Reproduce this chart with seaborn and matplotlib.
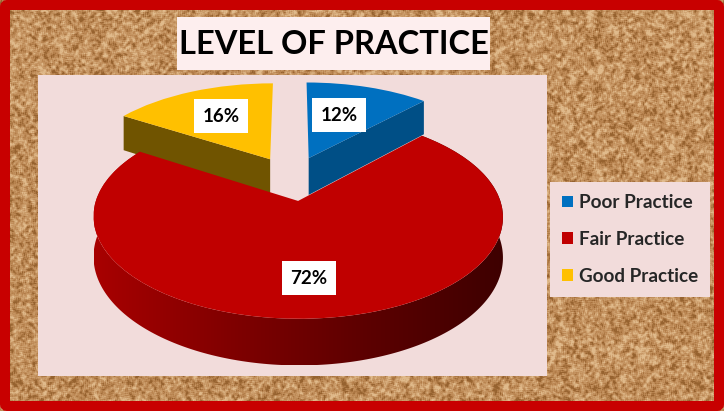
import numpy as np
import matplotlib
matplotlib.use("Agg")
import matplotlib.pyplot as plt
import matplotlib.transforms as mtransforms
from matplotlib.colors import LinearSegmentedColormap
from matplotlib.patches import FancyBboxPatch, Polygon, Rectangle
import seaborn as sns

# Chart data
categories = ["Poor Practice", "Fair Practice", "Good Practice"]
shares = [12, 72, 16]
pct_labels = ["12%", "72%", "16%"]
title_text = "LEVEL OF PRACTICE"

# Look of the pie
top_colors = sns.color_palette(["#0070C0", "#C00000", "#FFC000"])
wall_colors = {"Poor Practice": "#004F86", "Good Practice": "#705400"}
pull_out = 0.24

sns.set_theme(style="white")
plt.rcParams["font.family"] = ["Lato", "DejaVu Sans"]

W, H = 724, 411
fig = plt.figure(figsize=(W / 100, H / 100), dpi=100, facecolor="white")
ax = fig.add_axes([0, 0, 1, 1])


# pie plane -> screen pixels, back of the pie is smaller than the front
def to_screen(u, v, depth=0.0):
    w = 1 + 0.15 * v
    return 292 + 195 * u / w, 178.1 - 92.5 * v / w + 38 * depth / w


class Tilt(mtransforms.Transform):
    input_dims = 2
    output_dims = 2

    def transform_non_affine(self, values):
        x, y = to_screen(values[:, 0], values[:, 1])
        return np.column_stack([x, y])


wedges, _ = ax.pie(shares, colors=top_colors, startangle=90, counterclock=False,
                   explode=[pull_out] * 3, radius=1)
ax.set_aspect("auto")
ax.axis("off")
for w, name in zip(wedges, categories):
    w.set_transform(Tilt() + ax.transData)
    w.set_linewidth(0)
    w.set_zorder(5 if name == "Fair Practice" else 3)

# cork board texture, no random generator needed
yy, xx = np.mgrid[0:H, 0:W]
grain = np.sin(xx * 12.9898 + yy * 78.233) * 43758.5453
grain = grain - np.floor(grain)
soft = sum(np.roll(np.roll(grain, i, 0), j, 1) for i in (-1, 0, 1) for j in (-1, 0, 1)) / 9
coarse = sum(np.roll(np.roll(grain, i, 0), j, 1) for i in range(-3, 4) for j in range(-3, 4)) / 49
tex = 0.5 + (soft - 0.5) * 2.4 + (coarse - 0.5) * 1.2
cork = LinearSegmentedColormap.from_list("cork", ["#96622F", "#B98450", "#CB9C6A", "#E0BA8B"])
ax.imshow(tex, cmap=cork, vmin=0, vmax=1, extent=(0, W, H, 0), aspect="auto", zorder=0,
          interpolation="nearest")

# frame and panels
ax.add_patch(FancyBboxPatch((5, 5), W - 10, H - 10, boxstyle="round,pad=0,rounding_size=2",
                            fc="none", ec="#C80000", lw=7.2, zorder=1))
ax.add_patch(Rectangle((38, 75), 509, 301, fc="#F2DCDB", lw=0, zorder=1))
ax.add_patch(Rectangle((177, 17), 313, 53, fc="#FDEEEE", lw=0, zorder=1))
ax.text(333.5, 45, title_text, ha="center", va="center", fontsize=23.5, fontweight="bold",
        color="black", zorder=6)

# start/end angles of the slices, clockwise from 12 o'clock
edges = np.radians(np.cumsum([0] + shares) / sum(shares) * 360)
mids = (edges[:-1] + edges[1:]) / 2
centers = pull_out * np.column_stack([np.sin(mids), np.cos(mids)])

# cut walls of the two back slices
wall_angle = {"Poor Practice": edges[1], "Good Practice": edges[2]}
for i, name in enumerate(categories):
    if name not in wall_colors:
        continue
    cu, cv = centers[i]
    tu, tv = cu + np.sin(wall_angle[name]), cv + np.cos(wall_angle[name])
    a = to_screen(cu, cv)
    b = to_screen(tu, tv)
    c = to_screen(tu, tv, 1)
    d = to_screen(cu, cv, 1)
    ax.fill([a[0], b[0], c[0], d[0]], [a[1], b[1], c[1], d[1]], color=wall_colors[name], lw=0, zorder=2)

# outer wall of the big slice, shaded left to right
wall_cmap = LinearSegmentedColormap.from_list("wall", ["#A80000", "#800000", "#5C0000", "#3E0000"])
t = np.linspace(edges[1], edges[2], 240)
cu, cv = centers[1]
x0, y0 = to_screen(cu + np.sin(t), cv + np.cos(t))
x1, y1 = to_screen(cu + np.sin(t), cv + np.cos(t), 1)
outline = np.column_stack([np.r_[x0, x1[::-1]], np.r_[y0, y1[::-1]]])
wall_shape = Polygon(outline, closed=True, transform=ax.transData, fc="none", lw=0)
ax.add_patch(wall_shape)
ramp = ax.imshow(np.linspace(0, 1, 256)[None, :], cmap=wall_cmap, aspect="auto", zorder=4,
                 extent=(outline[:, 0].min(), outline[:, 0].max(), outline[:, 1].max(), outline[:, 1].min()))
ramp.set_clip_path(wall_shape)

ax.set_xlim(0, W)
ax.set_ylim(H, 0)

# percentage labels in white boxes
label_pos = [(339, 115), (309, 278), (221, 116)]
for (lx, ly), txt in zip(label_pos, pct_labels):
    ax.text(lx, ly, txt, ha="center", va="center", fontsize=13.5, fontweight="bold", color="black",
            zorder=7, bbox=dict(fc="white", ec="none", pad=6))

leg = ax.legend(wedges, categories, loc="upper left", bbox_to_anchor=(550 / W, 1 - 182 / H),
                bbox_transform=fig.transFigure, borderaxespad=0, frameon=True,
                facecolor="#F2DCDB", edgecolor="none", framealpha=1, fancybox=False,
                handlelength=0.58, handleheight=0.58, handletextpad=0.3, labelspacing=1.05,
                borderpad=0.64, prop={"weight": "bold", "size": 13.6})
leg.set_zorder(8)

fig.savefig("out.png", dpi=100)
